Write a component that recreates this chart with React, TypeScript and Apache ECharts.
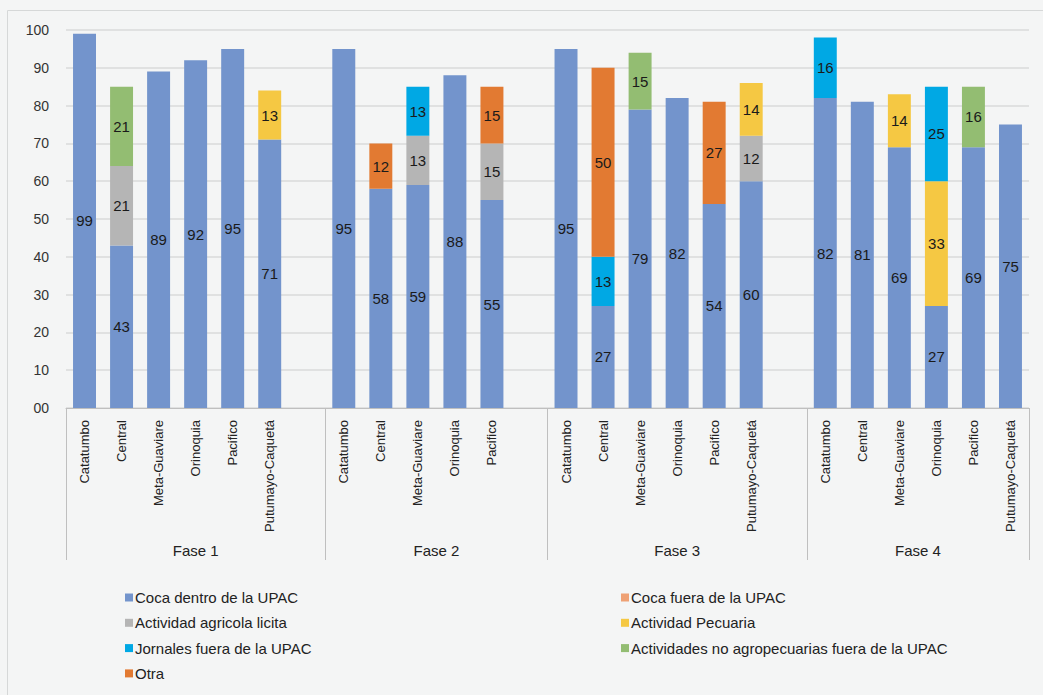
import React, { useEffect, useRef } from "react";
import * as echarts from "echarts";

const phases = ["Fase 1", "Fase 2", "Fase 3", "Fase 4"];
const phaseRegions: string[][] = [
  ["Catatumbo", "Central", "Meta-Guaviare", "Orinoquia", "Pacifico", "Putumayo-Caquetá"],
  ["Catatumbo", "Central", "Meta-Guaviare", "Orinoquia", "Pacifico"],
  ["Catatumbo", "Central", "Meta-Guaviare", "Orinoquia", "Pacifico", "Putumayo-Caquetá"],
  ["Catatumbo", "Central", "Meta-Guaviare", "Orinoquia", "Pacifico", "Putumayo-Caquetá"],
];

const yTicks = [0, 10, 20, 30, 40, 50, 60, 70, 80, 90, 100];

// values in bar order (Fase 1..4, regions as above)
const cocaDentro = [99, 43, 89, 92, 95, 71, 95, 58, 59, 88, 55, 95, 27, 79, 82, 54, 60, 82, 81, 69, 27, 69, 75];
const cocaFuera = [null, null, null, null, null, null, null, null, null, null, null, null, null, null, null, null, null, null, null, null, null, null, null];
const agricola = [null, 21, null, null, null, null, null, null, 13, null, 15, null, null, null, null, null, 12, null, null, null, null, null, null];
const pecuaria = [null, null, null, null, null, 13, null, null, null, null, null, null, null, null, null, null, 14, null, null, 14, 33, null, null];
const jornales = [null, null, null, null, null, null, null, null, 13, null, null, null, 13, null, null, null, null, 16, null, null, 25, null, null];
const noAgro = [null, 21, null, null, null, null, null, null, null, null, null, null, null, 15, null, null, null, null, null, null, null, 16, null];
const otra = [null, null, null, null, null, null, null, 12, null, null, 15, null, 50, null, null, 27, null, null, null, null, null, null, null];

const seriesDefs = [
  { name: "Coca dentro de la UPAC", data: cocaDentro, color: "#7394CC" },
  { name: "Coca fuera de la UPAC", data: cocaFuera, color: "#EFA174" },
  { name: "Actividad agricola licita", data: agricola, color: "#B5B5B5" },
  { name: "Actividad Pecuaria", data: pecuaria, color: "#F5C843" },
  { name: "Jornales fuera de la UPAC", data: jornales, color: "#00A8E4" },
  { name: "Actividades no agropecuarias fuera de la UPAC", data: noAgro, color: "#93BD72" },
  { name: "Otra", data: otra, color: "#E27A32" },
];

const legendLeft = ["Coca dentro de la UPAC", "Actividad agricola licita", "Jornales fuera de la UPAC", "Otra"];
const legendRight = ["Coca fuera de la UPAC", "Actividad Pecuaria", "Actividades no agropecuarias fuera de la UPAC"];

const FONT = "'Liberation Sans', Arial, sans-serif";

export default function App() {
  const ref = useRef<HTMLDivElement>(null);
  useEffect(() => {
    if (!ref.current) return;
    const chart = echarts.init(ref.current, null, { renderer: "svg" });

    const categories: string[] = [];
    const barIndex: number[] = [];
    const boundaries: number[] = [0];
    const centers: number[] = [];
    let b = 0;
    phaseRegions.forEach((regs, p) => {
      const start = categories.length;
      regs.forEach((r) => {
        categories.push(p + "|" + r);
        barIndex.push(b++);
      });
      if (p < phaseRegions.length - 1) {
        categories.push("gap" + p);
        barIndex.push(-1);
      }
      const end = categories.length;
      boundaries.push(end);
      centers.push((start + end) / 2);
    });
    const nSlots = categories.length;

    const mapData = (arr: (number | null)[]) => barIndex.map((i) => (i < 0 ? null : arr[i]));

    const series = seriesDefs.map((s) => ({
      name: s.name,
      type: "bar",
      stack: "total",
      xAxisIndex: 0,
      yAxisIndex: 0,
      barWidth: "62%",
      data: mapData(s.data as (number | null)[]),
      itemStyle: { color: s.color },
      label: {
        show: true,
        position: "inside",
        color: "#1a1a1a",
        fontSize: 15,
        fontFamily: FONT,
        formatter: (p: any) => (p.value == null || p.value === 0 ? "" : String(p.value)),
      },
    }));

    const legendCommon = {
      orient: "vertical",
      itemWidth: 8,
      itemHeight: 8,
      itemGap: 10.3,
      icon: "rect",
      selectedMode: false,
      textStyle: { color: "#222", fontSize: 15, fontFamily: FONT, padding: [0, 0, 0, -3] },
    };

    chart.setOption({
      animation: false,
      backgroundColor: "#F4F5F5",
      graphic: [
        {
          type: "rect",
          shape: { x: 7.5, y: 10.5, width: 1040, height: 690 },
          style: { fill: "none", stroke: "#D6D8D8", lineWidth: 1 },
          silent: true,
        },
      ],
      grid: { left: 66, right: 14, top: 30, bottom: 287, containLabel: false },
      legend: [
        { ...legendCommon, left: 120, top: 585, data: legendLeft },
        { ...legendCommon, left: 616, top: 585, data: legendRight },
      ],
      xAxis: [
        {
          type: "category",
          position: "bottom",
          data: categories,
          boundaryGap: true,
          axisLine: { show: true, lineStyle: { color: "#BFBFBF", width: 1 } },
          axisTick: { show: false },
          axisLabel: {
            interval: 0,
            rotate: 90,
            margin: 12,
            color: "#222",
            fontSize: 13,
            fontFamily: FONT,
            formatter: (v: string) => (v.startsWith("gap") ? "" : v.split("|")[1]),
          },
          splitLine: { show: false },
        },
        {
          type: "value",
          position: "bottom",
          min: 0,
          max: nSlots,
          axisLine: { show: false },
          axisTick: {
            show: true,
            customValues: boundaries,
            length: 152,
            inside: false,
            lineStyle: { color: "#BFBFBF", width: 1 },
          },
          axisLabel: {
            show: true,
            customValues: centers,
            margin: 135,
            color: "#222",
            fontSize: 15,
            fontFamily: FONT,
            formatter: (v: number) => {
              const i = centers.findIndex((c) => Math.abs(c - v) < 1e-6);
              return i >= 0 ? phases[i] : "";
            },
          },
          splitLine: { show: false },
        },
      ],
      yAxis: {
        type: "value",
        min: 0,
        max: 100,
        interval: 10,
        axisLine: { show: false },
        axisTick: { show: false },
        axisLabel: {
          margin: 17,
          color: "#333",
          fontSize: 14,
          fontFamily: FONT,
          customValues: yTicks,
          formatter: (v: number) => (v === 0 ? "00" : String(v)),
        },
        splitLine: { show: true, lineStyle: { color: "#DADADA", width: 1.5 } },
      },
      series,
    });
    return () => chart.dispose();
  }, []);
  return (
    <div
      ref={ref}
      style={{ position: "fixed", left: 0, top: 0, width: 1043, height: 695 }}
    />
  );
}
